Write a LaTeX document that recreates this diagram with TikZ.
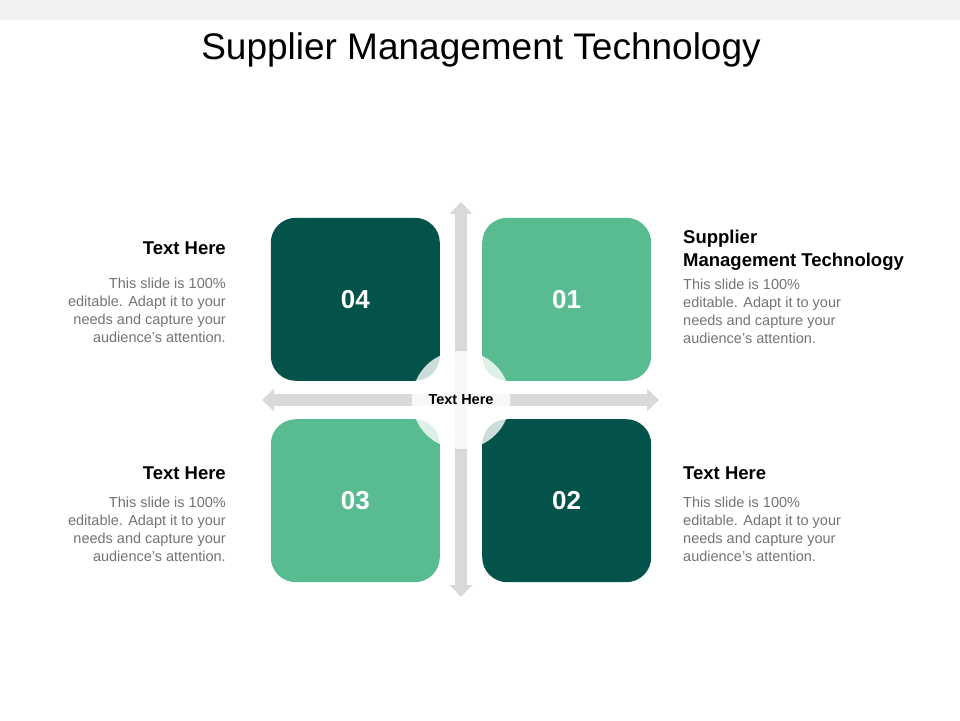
\documentclass[tikz,border=0pt]{standalone}
\usepackage{fontspec}
\setmainfont{Liberation Sans}
\usepackage{xcolor}
\usetikzlibrary{positioning, arrows.meta}
\definecolor{darkteal}{HTML}{03534A}
\definecolor{lightteal}{HTML}{59BC91}
\definecolor{axisgray}{HTML}{D9D9D9}
\definecolor{bandgray}{HTML}{F2F2F2}
\definecolor{bodygray}{HTML}{737373}

\begin{document}
\begin{tikzpicture}[x=1pt, y=1pt,
    tile/.style={rectangle, rounded corners=25pt, minimum width=169pt, minimum height=163pt,
        inner sep=0pt, text=white, font=\fontsize{26}{30}\selectfont\bfseries},
    darktile/.style={tile, fill=darkteal},
    lighttile/.style={tile, fill=lightteal},
    head/.style={inner sep=0pt, font=\fontsize{18.5}{23}\selectfont\bfseries},
    body/.style={inner sep=0pt, text=bodygray, font=\fontsize{14.5}{18}\selectfont},
    axis/.style={axisgray, line width=12pt,
        {Triangle[width=22pt,length=12pt]}-{Triangle[width=22pt,length=12pt]}}]

    \useasboundingbox (0,0) rectangle (960,720);
    \fill[bandgray] (0,700) rectangle (960,720);
    \node[font=\fontsize{37}{40}\selectfont] (title) at (481,670) {Supplier Management Technology};

    % Les quatre carrés autour du centre
    \coordinate (c) at (461,320);
    \node[lighttile, above right=19pt and 21pt of c] (t1) {01};
    \node[darktile, below right=19pt and 21pt of c] (t2) {02};
    \node[lighttile, below left=19pt and 21pt of c] (t3) {03};
    \node[darktile, above left=19pt and 21pt of c] (t4) {04};

    % Les flèches
    \coordinate (n) at (461,518);
    \coordinate (s) at (461,123);
    \coordinate (w) at (262,320);
    \coordinate (e) at (659,320);
    \draw[axis] (w) -- (e);
    \draw[axis] (n) -- (s);

    \node[circle, minimum size=98pt, inner sep=0pt, fill=white, fill opacity=0.8] (hub) at (c) {};
    \node[font=\fontsize{14.5}{17}\selectfont\bfseries] (hubtext) at (hub) {Text Here};

    % Les textes
    \node[head, anchor=north west, align=left] (h1) at (683,490) {Supplier\\Management Technology};
    \node[body, anchor=north west, align=left] (b1) at (683,441)
        {This slide is 100\%\\editable. Adapt it to your\\needs and capture your\\audience's attention.};
    \node[head, anchor=west] (h2) at (683,247) {Text Here};
    \node[body, anchor=north west, align=left] (b2) at (683,223)
        {This slide is 100\%\\editable. Adapt it to your\\needs and capture your\\audience's attention.};
    \node[head, anchor=east] (h3) at (226,247) {Text Here};
    \node[body, anchor=north east, align=right] (b3) at (226,223)
        {This slide is 100\%\\editable. Adapt it to your\\needs and capture your\\audience's attention.};
    \node[head, anchor=east] (h4) at (226,472) {Text Here};
    \node[body, anchor=north east, align=right] (b4) at (226,442)
        {This slide is 100\%\\editable. Adapt it to your\\needs and capture your\\audience's attention.};

\end{tikzpicture}
\end{document}
